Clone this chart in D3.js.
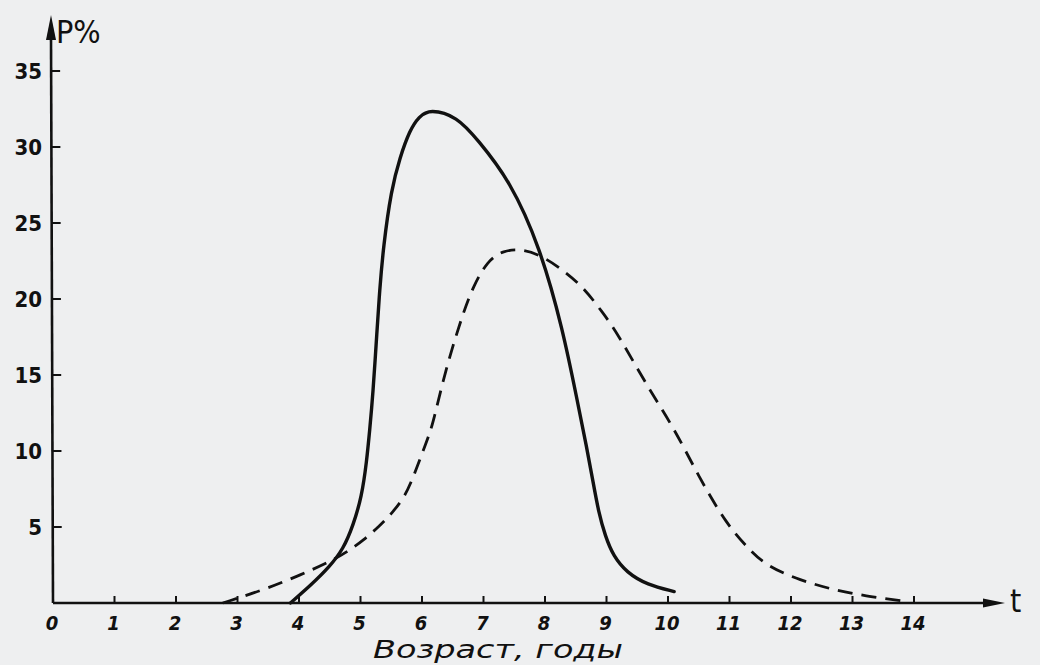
<!DOCTYPE html>
<html>
<head>
<meta charset="utf-8">
<script src="https://cdn.jsdelivr.net/npm/d3@7"></script>
<style>
  html, body { margin: 0; padding: 0; background: #eeeff0; }
  svg { display: block; }
  text { fill: #111; }
</style>
</head>
<body>
<svg id="chart" width="1040" height="665"></svg>
<script>
// ---- data ----
const xTicks = [0, 1, 2, 3, 4, 5, 6, 7, 8, 9, 10, 11, 12, 13, 14];
const yTicks = [5, 10, 15, 20, 25, 30, 35];
const yLabel = "P%";
const xLabel = "Возраст, годы";
const tLabel = "t";

// solid curve (age, %)
const solidAge = [3.86, 4.2, 4.5, 4.72, 4.88, 5.02, 5.1, 5.15, 5.2, 5.27, 5.31, 5.37, 5.5, 5.64, 5.8, 5.95, 6.13, 6.57, 6.9, 7.43, 7.92, 8.29, 8.52, 8.68, 8.78, 8.87, 8.98, 9.11, 9.33, 9.66, 10.1];
const solidP   = [0, 1.2, 2.4, 3.55, 5.1, 7.0, 9.3, 11.4, 13.6, 18, 20.5, 23.4, 27.2, 29.3, 31.1, 32.0, 32.5, 32.0, 30.5, 27.8, 23.4, 18, 13.4, 10.2, 8.0, 6.0, 4.4, 3.1, 2.0, 1.2, 0.75];

// dashed curve (age, %)
const dashAge = [2.76, 3.45, 4.0, 4.55, 4.83, 5.04, 5.32, 5.53, 5.72, 5.85, 5.97, 6.13, 6.2, 6.4, 6.67, 6.83, 7.06, 7.32, 7.64, 7.97, 8.29, 8.62, 8.94, 9.17, 9.7, 10.1, 10.5, 10.95, 11.3, 11.61, 12.15, 12.7, 13.3, 13.9];
const dashP   = [0, 0.9, 1.8, 2.8, 3.5, 4.1, 5.1, 6.0, 7.0, 8.2, 9.5, 11.2, 12.2, 15.6, 19.1, 20.8, 22.5, 23.2, 23.3, 22.8, 21.9, 20.8, 19.1, 17.8, 14.0, 11.5, 8.3, 5.2, 3.6, 2.4, 1.5, 0.85, 0.4, 0.1];

// ---- layout ----
const svg = d3.select("#chart");
const x = d3.scaleLinear().domain([0, 14]).range([53, 914]);
const y = d3.scaleLinear().domain([0, 35]).range([603, 71]);
const axisX0 = x(0), axisY0 = y(0);
const font = "'DejaVu Sans Condensed', 'DejaVu Sans', sans-serif";
const ink = "#111";

// axes lines
svg.append("line").attr("x1", axisX0).attr("y1", axisY0).attr("x2", 990).attr("y2", axisY0)
  .attr("stroke", ink).attr("stroke-width", 2.6);
svg.append("line").attr("x1", axisX0).attr("y1", axisY0).attr("x2", axisX0 - 2).attr("y2", 36)
  .attr("stroke", ink).attr("stroke-width", 2.6);

// arrowheads
svg.append("path").attr("d", `M${axisX0 - 2},15 L${axisX0 - 7},40 L${axisX0 + 3},40 Z`).attr("fill", ink);
svg.append("path").attr("d", `M1005,${axisY0} L983,${axisY0 - 4.5} L983,${axisY0 + 4.5} Z`).attr("fill", ink);

// x ticks
const gx = svg.append("g");
gx.selectAll("line").data(xTicks.filter(d => d > 0)).join("line")
  .attr("x1", d => x(d)).attr("x2", d => x(d))
  .attr("y1", axisY0).attr("y2", axisY0 - 7)
  .attr("stroke", ink).attr("stroke-width", 2);
gx.selectAll("text").data(xTicks).join("text")
  .attr("x", d => x(d) - 1).attr("y", axisY0 + 27)
  .attr("text-anchor", "middle")
  .attr("font-family", font).attr("font-style", "italic").attr("font-weight", "bold")
  .attr("font-size", 20)
  .text(d => d);

// y ticks
const slant = d => axisX0 - 2 * (y(0) - y(d)) / (y(0) - 36);
const gy = svg.append("g");
gy.selectAll("line").data(yTicks).join("line")
  .attr("x1", d => slant(d)).attr("x2", d => slant(d) + 9)
  .attr("y1", d => y(d)).attr("y2", d => y(d))
  .attr("stroke", ink).attr("stroke-width", 2);
gy.selectAll("text").data(yTicks).join("text")
  .attr("x", axisX0 - 11).attr("y", d => y(d) + 8)
  .attr("text-anchor", "end")
  .attr("font-family", font).attr("font-weight", "bold")
  .attr("font-size", 22)
  .text(d => d);

// axis labels
svg.append("text").attr("x", 56).attr("y", 43)
  .attr("font-family", font).attr("font-size", 32).text(yLabel);
svg.append("text").attr("x", 1010).attr("y", 612)
  .attr("font-family", font).attr("font-size", 32).text(tLabel);
svg.append("text").attr("x", 373).attr("y", 658)
  .attr("font-family", font).attr("font-style", "italic").attr("font-size", 24)
  .attr("textLength", 250).attr("lengthAdjust", "spacingAndGlyphs")
  .text(xLabel);

// curves
const line = d3.line().x(d => x(d[0])).y(d => y(d[1])).curve(d3.curveBasis);
const solid = solidAge.map((a, i) => [a, solidP[i]]);
const dashed = dashAge.map((a, i) => [a, dashP[i]]);

svg.append("path").attr("d", line(dashed))
  .attr("fill", "none").attr("stroke", ink).attr("stroke-width", 2.8)
  .attr("stroke-dasharray", "15,9");
svg.append("path").attr("d", line(solid))
  .attr("fill", "none").attr("stroke", ink).attr("stroke-width", 3.4)
  .attr("stroke-linecap", "round");
</script>
</body>
</html>
